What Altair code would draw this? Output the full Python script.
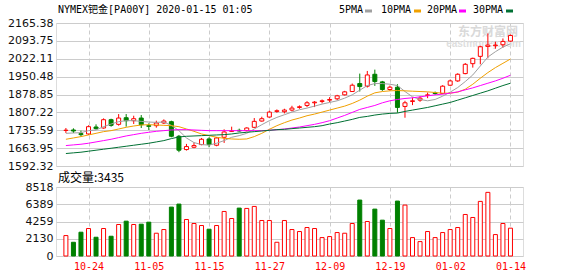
import altair as alt
import pandas as pd

# ---------------- data ----------------
dates = ["10-21","10-22","10-23","10-24","10-25","10-28","10-29","10-30","10-31","11-01",
         "11-04","11-05","11-06","11-07","11-08","11-11","11-12","11-13","11-14","11-15",
         "11-18","11-19","11-20","11-21","11-22","11-25","11-26","11-27","11-28","11-29",
         "12-02","12-03","12-04","12-05","12-06","12-09","12-10","12-11","12-12","12-13",
         "12-16","12-17","12-18","12-19","12-20","12-23","12-24","12-26","12-27","12-30",
         "12-31","01-02","01-03","01-06","01-07","01-08","01-09","01-10","01-13","01-14"]

opens = [1735.0,1736.7,1722.1,1720.7,1748.6,1744.6,1777.9,1759.2,1785.8,1773.9,
         1784.5,1753.9,1753.9,1764.6,1769.9,1711.4,1658.2,1667.5,1678.2,1700.7,
         1675.5,1707.4,1731.3,1735.3,1734.0,1747.3,1772.5,1788.5,1811.1,1809.8,
         1816.4,1827.0,1835.0,1845.6,1851.0,1856.3,1861.6,1877.5,1890.8,1922.7,
         1912.1,1959.9,1929.4,1898.8,1908.1,1831.0,1851.0,1856.3,1874.9,1885.5,
         1882.8,1916.1,1933.3,1962.6,2002.4,2031.7,2071.6,2074.2,2078.2,2092.8]
highs = [1744.6,1743.3,1734.0,1755.3,1759.2,1783.2,1781.8,1800.4,1800.4,1793.8,
         1796.5,1763.2,1773.9,1779.2,1773.9,1716.7,1680.8,1686.2,1704.7,1707.4,
         1708.7,1739.3,1749.9,1742.0,1747.3,1784.5,1789.8,1813.7,1819.1,1821.7,
         1833.7,1835.0,1852.3,1852.3,1858.9,1868.2,1877.5,1893.5,1922.7,1962.6,
         1973.2,1978.5,1933.3,1914.7,1920.0,1853.6,1866.9,1872.2,1886.8,1890.8,
         1916.1,1938.7,1963.9,2005.1,2026.4,2074.2,2123.4,2090.2,2103.5,2119.4]
lows = [1724.7,1724.7,1710.1,1716.7,1738.0,1742.0,1749.9,1753.9,1749.9,1760.6,
        1744.6,1736.7,1745.9,1760.6,1707.4,1647.6,1654.2,1663.5,1675.5,1667.5,
        1671.5,1684.8,1728.7,1730.0,1731.3,1744.6,1769.9,1785.8,1805.8,1803.1,
        1811.1,1821.7,1828.4,1828.4,1843.0,1848.3,1856.3,1874.9,1889.5,1890.8,
        1906.8,1913.4,1893.5,1893.5,1805.8,1785.8,1836.3,1849.6,1864.2,1877.5,
        1880.2,1913.4,1929.4,1959.9,1986.5,1999.8,2023.7,2062.3,2066.2,2090.2]
closes = [1735.6,1732.6,1718.0,1749.9,1742.0,1777.9,1755.3,1784.5,1773.9,1781.8,
          1757.9,1751.3,1764.6,1772.5,1711.4,1655.6,1670.2,1674.2,1699.4,1678.2,
          1704.7,1728.7,1732.6,1732.6,1744.6,1771.2,1781.8,1808.4,1813.7,1816.4,
          1824.4,1829.7,1845.6,1848.3,1853.6,1858.9,1873.5,1889.5,1916.1,1910.7,
          1957.2,1930.7,1898.8,1908.1,1827.0,1845.6,1853.6,1864.2,1877.5,1882.8,
          1912.1,1933.3,1959.9,1999.8,2023.7,2070.2,2076.9,2076.9,2091.5,2115.4]

ma5 = [1723.3,1724.7,1726.0,1734.0,1736.7,1749.9,1760.6,1769.9,1773.9,1773.9,
       1771.2,1768.5,1767.2,1768.5,1755.3,1734.0,1704.7,1686.2,1678.2,1676.0,
       1683.5,1694.1,1707.4,1714.0,1723.3,1740.6,1757.9,1773.9,1787.1,1797.8,
       1808.4,1817.7,1824.4,1832.3,1840.3,1847.0,1853.6,1864.2,1877.5,1896.1,
       1914.7,1922.7,1922.7,1920.0,1914.7,1890.8,1869.5,1858.9,1853.6,1858.9,
       1872.2,1888.2,1906.8,1930.7,1957.2,1993.1,2029.0,2050.3,2068.9,2082.2]
ma10 = [1699.4,1704.7,1710.1,1716.7,1723.3,1730.0,1734.0,1740.6,1747.3,1752.6,
        1756.6,1757.9,1756.6,1755.3,1753.9,1749.9,1740.6,1731.3,1720.7,1714.0,
        1707.4,1703.4,1700.7,1699.4,1700.7,1710.1,1723.3,1739.3,1753.9,1765.9,
        1776.5,1784.5,1793.8,1800.4,1808.4,1816.4,1824.4,1832.3,1843.0,1856.3,
        1872.2,1885.5,1890.8,1893.5,1894.8,1893.5,1892.1,1890.8,1889.5,1886.8,
        1884.2,1884.2,1888.2,1900.1,1920.0,1944.0,1966.6,1986.5,2003.8,2021.1]
ma20 = [1674.2,1676.9,1679.5,1683.5,1688.8,1694.1,1699.4,1706.1,1712.7,1718.0,
        1723.3,1727.4,1731.3,1734.0,1736.7,1738.0,1738.0,1736.7,1735.3,1734.0,
        1734.0,1734.0,1734.0,1734.0,1734.0,1734.0,1734.0,1735.3,1738.0,1740.6,
        1744.6,1748.6,1753.9,1759.2,1765.9,1773.9,1784.5,1795.1,1807.1,1819.0,
        1827.0,1835.0,1845.6,1853.6,1858.9,1862.9,1865.6,1869.5,1873.5,1877.5,
        1880.2,1884.2,1889.5,1897.5,1905.4,1914.7,1924.0,1933.3,1944.0,1956.0]
ma30 = [1642.3,1645.0,1647.6,1651.6,1655.6,1659.6,1663.5,1667.5,1671.5,1675.5,
        1679.5,1683.5,1688.8,1694.1,1702.1,1708.7,1711.4,1712.7,1714.0,1715.4,
        1716.7,1718.0,1720.7,1724.7,1727.4,1730.0,1732.6,1735.3,1738.0,1739.3,
        1742.0,1744.6,1747.3,1749.9,1753.9,1760.6,1765.9,1772.5,1779.2,1787.1,
        1791.1,1796.5,1800.4,1803.1,1804.4,1811.1,1816.4,1821.7,1827.0,1833.7,
        1840.3,1847.0,1856.3,1865.6,1874.9,1884.2,1893.5,1904.1,1914.7,1924.0]

volumes = [2522,1695,2936,3391,2316,3391,2440,3887,4300,3887,
           3928,4176,2812,3267,6037,6409,4507,4011,3763,3308,
           3763,5499,4631,5913,5872,6120,4383,4383,1695,4383,
           3267,3019,3515,3391,2274,2398,2894,2812,4011,6905,
           4259,5789,4424,3391,6781,6285,2274,1778,3019,2274,
           2894,3267,3515,5127,4755,6740,7856,2646,4011,3435]
vol_up = [1,0,0,1,0,1,0,1,0,1, 0,0,1,1,0,0,1,1,1,0,
          1,1,1,0,1,1,1,1,1,1, 1,1,1,1,1,1,1,1,1,0,
          1,0,0,1,0,1,1,1,1,1, 1,1,1,1,1,1,1,1,1,1]

tick_dates = ["10-24","11-05","11-15","11-27","12-09","12-19","01-02","01-14"]
price_ticks = [1592.32,1663.95,1735.59,1807.22,1878.85,1950.48,2022.11,2093.75,2165.38]
volume_ticks = [0,2130,4259,6389,8518]
ma_names = ["5PMA","10PMA","20PMA","30PMA"]
title_text = "NYMEX钯金[PA00Y] 2020-01-15 01:05"
volume_label = "成交量:" + str(volumes[-1])
watermark = ["东方财富网", "eastmoney.com"]

# ---------------- styles ----------------
RED = "#ff0000"
GREEN = "#008000"
MA_COLORS = ["#a0a0a0", "#f0a000", "#ff00ff", "#007033"]
GRID = "#cccccc"
MONO = "DejaVu Sans Mono, Noto Sans CJK SC"
AX_FONT = "DejaVu Sans"
W = 467

df = pd.DataFrame({"i": list(range(len(dates))), "date": dates, "open": opens, "high": highs,
                   "low": lows, "close": closes, "ma5": ma5, "ma10": ma10, "ma20": ma20,
                   "ma30": ma30})
vdf = pd.DataFrame({"i": list(range(len(dates))), "date": dates, "vol": volumes, "up": vol_up})

tick_idx = [dates.index(d) for d in tick_dates]
label_expr = ""
for k, d in zip(tick_idx, tick_dates):
    label_expr += f"datum.value == {k} ? '{d}' : "
label_expr += "''"

xscale = alt.Scale(domain=[-0.65, 60.0], nice=False, zero=False)
up_test = "datum.close >= datum.open"

x_grid_axis = alt.Axis(values=tick_idx, grid=True, gridDash=[4, 3], gridColor=GRID,
                       labels=False, ticks=False, domain=False, title=None)
y_price_axis = alt.Axis(values=price_ticks, format=".2f", grid=True, gridColor=GRID,
                        ticks=False, domain=False, labelPadding=3, labelFont=AX_FONT,
                        labelFontSize=11, labelColor="#111", title=None,
                        labelOverlap=False, labelFlush=False)
yscale = alt.Scale(domain=[price_ticks[0], price_ticks[-1]], nice=False, zero=False)

base = alt.Chart(df).encode(x=alt.X("i:Q", scale=xscale, axis=x_grid_axis))

wm1 = alt.Chart(pd.DataFrame({"t": [watermark[0]]})).mark_text(
    align="right", baseline="middle", font="Noto Sans CJK SC", fontSize=12, fontWeight="bold",
    color="#d9d9d9").encode(x=alt.value(462), y=alt.value(9), text="t:N")
wm2 = alt.Chart(pd.DataFrame({"t": [watermark[1]]})).mark_text(
    align="right", baseline="middle", font="Liberation Sans", fontSize=10, fontWeight="bold",
    color="#dedede").encode(x=alt.value(465), y=alt.value(21), text="t:N")

wick = base.mark_rule(strokeWidth=1).encode(
    y=alt.Y("low:Q", scale=yscale, axis=y_price_axis, title=None),
    y2="high:Q",
    color=alt.condition(up_test, alt.value(RED), alt.value(GREEN)))
body = base.mark_bar(size=4, strokeWidth=1).encode(
    y=alt.Y("open:Q", scale=yscale, axis=y_price_axis, title=None), y2="close:Q",
    fill=alt.condition(up_test, alt.value("white"), alt.value(GREEN)),
    stroke=alt.condition(up_test, alt.value(RED), alt.value(GREEN)))

ma_layers = []
for col, c in zip(["ma5", "ma10", "ma20", "ma30"], MA_COLORS):
    ma_layers.append(base.mark_line(color=c, strokeWidth=1).encode(
        y=alt.Y(f"{col}:Q", scale=yscale, axis=y_price_axis, title=None)))

title_layer = alt.Chart(pd.DataFrame({"t": [title_text]})).mark_text(
    align="left", baseline="middle", font=MONO, fontSize=10, color="#000").encode(
    x=alt.value(2), y=alt.value(-13), text="t:N")

legend_layers = []
text_x = [283, 325, 371, 417]
dash_x = [309, 358, 403, 450]
for name, c, tx, dx in zip(ma_names, MA_COLORS, text_x, dash_x):
    legend_layers.append(alt.Chart(pd.DataFrame({"t": [name]})).mark_text(
        align="left", baseline="middle", font=MONO, fontSize=10, color="#000").encode(
        x=alt.value(tx), y=alt.value(-13), text="t:N"))
    legend_layers.append(alt.Chart(pd.DataFrame({"t": [name]})).mark_rule(
        color=c, strokeWidth=3).encode(x=alt.value(dx), x2=alt.value(dx + 7), y=alt.value(-12)))

anchor = alt.Chart(pd.DataFrame({"t": [0]})).mark_rule(
    color="white", strokeOpacity=0, strokeWidth=0).encode(
    x=alt.value(-55), x2=alt.value(0), y=alt.value(-22))

main = alt.layer(anchor, wm1, wm2, wick, body, *ma_layers, title_layer, *legend_layers).properties(
    width=W, height=143)

# ---------------- volume ----------------
x_vol_axis = alt.Axis(values=tick_idx, labelExpr=label_expr, grid=True, gridDash=[4, 3],
                      gridColor=GRID, ticks=False, tickSize=0, domain=False, labelPadding=5,
                      labelFont=MONO, labelFontSize=10, labelColor=RED, title=None,
                      labelFlush=False, labelOverlap=False)
y_vol_axis = alt.Axis(values=volume_ticks, format="d", grid=True, gridColor=GRID, ticks=False,
                      domain=False, labelPadding=3, labelFont=AX_FONT, labelFontSize=11,
                      labelColor="#111", title=None, labelOverlap=False, labelFlush=False)

vbars = alt.Chart(vdf).mark_bar(size=4, strokeWidth=1).encode(
    x=alt.X("i:Q", scale=xscale, axis=x_vol_axis),
    y=alt.Y("vol:Q", scale=alt.Scale(domain=[0, volume_ticks[-1]], nice=False), axis=y_vol_axis,
            title=None),
    fill=alt.condition("datum.up == 1", alt.value("white"), alt.value(GREEN)),
    stroke=alt.condition("datum.up == 1", alt.value(RED), alt.value(GREEN)))
vlabel = alt.Chart(pd.DataFrame({"t": [volume_label]})).mark_text(
    align="left", baseline="middle", font="Noto Sans CJK SC", fontSize=12, color="#000").encode(
    x=alt.value(2), y=alt.value(-9), text="t:N")

vol = alt.layer(vbars, vlabel).properties(width=W, height=69)

chart = alt.vconcat(main, vol, spacing=21, bounds="flush").properties(
    padding={"left": 0, "top": 0, "right": 0, "bottom": 0}
).configure_view(stroke="#999999", strokeWidth=1).configure(background="white")

chart.save("out.html", embed_options={"renderer": "svg", "actions": False})
